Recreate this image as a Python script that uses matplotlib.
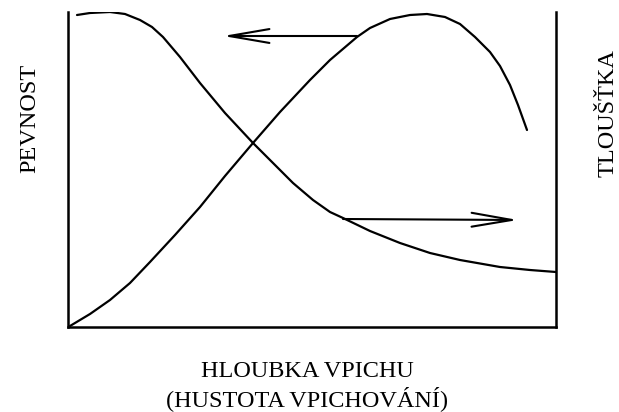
import matplotlib.pyplot as plt

##### DATA #####
# values are in plot units: x grows to the right (0..488), y grows upwards (0..315)

# pevnost curve (rises, peaks, drops)
pev_x = [2, 22, 42, 62, 82, 107, 132, 157, 185, 212, 242, 262, 289, 302, 322, 342, 359, 377, 392, 407, 422, 432, 442, 450, 459]
pev_y = [1, 13, 27, 44, 65, 92, 120, 151, 184, 215, 247, 267, 290, 299, 308, 312, 313, 310, 303, 290, 275, 261, 242, 222, 197]

# tlouska curve (falls towards a plateau)
tl_x = [9, 22, 42, 57, 72, 84, 95, 112, 132, 157, 185, 205, 225, 245, 262, 275, 302, 332, 362, 392, 432, 462, 488]
tl_y = [312, 314, 315, 313, 307, 300, 290, 270, 244, 214, 184, 164, 144, 127, 115, 109, 96, 84, 74, 67, 60, 57, 55]

# arrows: (start, end)
arrow_pev = ((289, 291), (155, 291))
arrow_tl = ((275, 108), (450, 107))

x_label = "HLOUBKA VPICHU\n(HUSTOTA VPICHOVÁNÍ)"
left_label = "PEVNOST"
right_label = "TLOUŠŤKA"

##### PLOT #####
plt.rcParams['font.family'] = ['Liberation Serif', 'DejaVu Serif']

fig = plt.figure(figsize=(6.19, 4.12), dpi=100)
ax = fig.add_axes([68 / 619, 85 / 412, 488 / 619, 315 / 412])

ax.plot(pev_x, pev_y, color='black', lw=1.6, solid_capstyle='round',
        solid_joinstyle='round')
ax.plot(tl_x, tl_y, color='black', lw=1.6, solid_capstyle='round',
        solid_joinstyle='round')

for (x0, y0), (x1, y1) in (arrow_pev, arrow_tl):
    ax.annotate("", xy=(x1, y1), xytext=(x0, y0),
                arrowprops=dict(arrowstyle='->,head_length=2.9,head_width=0.5',
                                mutation_scale=10, color='black', lw=1.5,
                                shrinkA=0, shrinkB=0))

ax.set_xlim(0, 488)
ax.set_ylim(0, 315)
ax.set_xticks([])
ax.set_yticks([])
ax.spines['top'].set_visible(False)
for side in ('left', 'right', 'bottom'):
    ax.spines[side].set_linewidth(1.8)

fig.text(307 / 619, 1 - 386 / 412, x_label, ha='center', va='center',
         fontsize=17.5, linespacing=1.2)
fig.text(30 / 619, 1 - 118 / 412, left_label, rotation=90, ha='center',
         va='center', fontsize=17.5)
fig.text(608 / 619, 1 - 113 / 412, right_label, rotation=90, ha='center',
         va='center', fontsize=17.5)

fig.savefig('out.png', dpi=100)
